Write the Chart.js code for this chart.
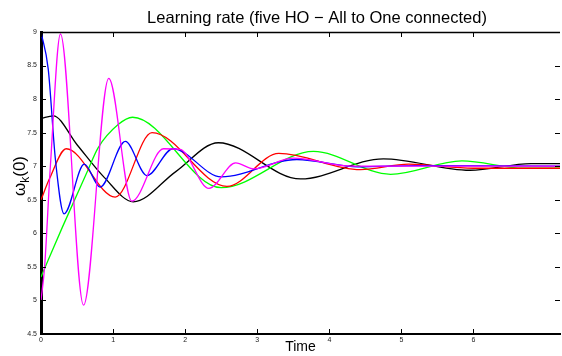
<!DOCTYPE html>
<html>
<head>
<meta charset="utf-8">
<script src="https://cdn.jsdelivr.net/npm/chart.js@4/dist/chart.umd.min.js"></script>
<style>
  html, body { margin: 0; padding: 0; background: #fff; }
  #wrap { width: 562px; height: 356px; }
</style>
</head>
<body>
<div id="wrap"><canvas id="learning-chart"></canvas></div>
<script>
// values (time, value) for each curve
const tBlack = [0, 0.17, 0.5, 0.88, 1.28, 1.87, 2.46, 3.6, 4.75, 5.95, 6.8, 7.2];
const vBlack = [7.71, 7.75, 7.32, 6.83, 6.47, 6.92, 7.35, 6.81, 7.11, 6.94, 7.04, 7.04];

const tBlue = [0, 0.1, 0.2, 0.32, 0.6, 0.82, 1.17, 1.47, 1.83, 2.5, 3.55, 4.4, 5.2, 7.2];
const vBlue = [9.0, 8.45, 7.1, 6.29, 7.03, 6.69, 7.37, 6.86, 7.26, 6.84, 7.10, 6.99, 7.01, 7.0];

const tRed = [0, 0.12, 0.35, 1.03, 1.54, 2.58, 3.3, 4.43, 5.1, 6.0, 7.2];
const vRed = [6.5, 6.82, 7.26, 6.54, 7.5, 6.70, 7.19, 6.95, 7.03, 6.97, 6.97];

const tGreen = [0, 0.3, 0.65, 0.79, 1.07, 1.27, 2.5, 3.78, 4.85, 5.84, 6.7, 7.2];
const vGreen = [5.35, 6.1, 6.94, 7.27, 7.62, 7.73, 6.68, 7.22, 6.88, 7.08, 6.97, 6.97];

const tMagenta = [0, 0.05, 0.13, 0.27, 0.59, 0.94, 1.26, 1.7, 1.93, 2.33, 2.7, 2.95, 3.5, 4.3, 7.2];
const vMagenta = [5.0, 5.5, 7.0, 8.97, 4.93, 8.31, 6.48, 7.26, 7.25, 6.67, 7.05, 6.96, 7.12, 7.0, 7.0];

const xTicks = [0, 1, 2, 3, 4, 5, 6];

const chartTitle = 'Learning rate (five HO \u2212 All to One connected)';

function pts(t, v) {
    return t.map((x, i) => ({ x: x, y: v[i] }));
}

function series(label, color, t, v) {
    return {
        label: label,
        data: pts(t, v),
        borderColor: color,
        borderWidth: 1.3,
        pointRadius: 0,
        fill: false,
        cubicInterpolationMode: 'monotone',
    };
}

// matlab-like inward ticks, top border, title and the ω_k(0) label
const matlabFrame = {
    id: 'matlabFrame',
    afterDraw(chart) {
        const { ctx, chartArea: a, scales: { x, y } } = chart;
        ctx.save();
        ctx.strokeStyle = '#000';
        ctx.lineWidth = 1;
        ctx.beginPath();
        y.ticks.forEach(t => {
            const py = Math.round(y.getPixelForValue(t.value)) + 0.5;
            ctx.moveTo(a.left, py); ctx.lineTo(a.left + 5, py);
            ctx.moveTo(a.right - 5, py); ctx.lineTo(a.right, py);
        });
        x.ticks.forEach(t => {
            const px = Math.round(x.getPixelForValue(t.value)) + 0.5;
            ctx.moveTo(px, a.bottom); ctx.lineTo(px, a.bottom - 5);
            ctx.moveTo(px, a.top); ctx.lineTo(px, a.top + 5);
        });
        ctx.stroke();
        ctx.lineWidth = 1.5;
        ctx.beginPath();
        ctx.moveTo(a.left, a.top + 0.5);
        ctx.lineTo(a.right, a.top + 0.5);
        ctx.stroke();

        // title (the original figure is cropped on the right, so it sits off-centre)
        ctx.fillStyle = '#000';
        ctx.font = '16.5px "Liberation Sans", Arial, sans-serif';
        ctx.textAlign = 'center';
        ctx.textBaseline = 'middle';
        ctx.fillText(chartTitle, 317, 18);

        // y axis title with subscript k
        ctx.textAlign = 'left';
        ctx.translate(25, 176);
        ctx.rotate(-Math.PI / 2);
        ctx.textBaseline = 'alphabetic';
        const big = '17px "Liberation Sans", Arial, sans-serif';
        const small = '12px "Liberation Sans", Arial, sans-serif';
        ctx.font = big;
        const w1 = ctx.measureText('ω').width;
        const w3 = ctx.measureText('(0)').width;
        ctx.font = small;
        const w2 = ctx.measureText('k').width;
        let cx = -(w1 + w2 + w3) / 2;
        ctx.font = big;
        ctx.fillText('ω', cx, 0);
        cx += w1;
        ctx.font = small;
        ctx.fillText('k', cx, 4);
        cx += w2;
        ctx.font = big;
        ctx.fillText('(0)', cx, 0);
        ctx.restore();
    }
};

document.addEventListener('DOMContentLoaded', function () {
    const ctx = document.getElementById('learning-chart').getContext('2d');
    new Chart(ctx, {
        type: 'line',
        data: {
            datasets: [
                series('HO 5', '#ff00ff', tMagenta, vMagenta),
                series('HO 2', '#0000ff', tBlue, vBlue),
                series('HO 3', '#ff0000', tRed, vRed),
                series('HO 4', '#00ff00', tGreen, vGreen),
                series('HO 1', '#000000', tBlack, vBlack),
            ],
        },
        options: {
            responsive: true,
            maintainAspectRatio: false,
            animation: false,
            layout: { padding: { left: 0, right: 2, top: 32, bottom: 0 } },
            plugins: {
                legend: { display: false },
                tooltip: { enabled: false },
                title: { display: false },
            },
            scales: {
                x: {
                    type: 'linear',
                    min: 0,
                    max: 7.2,
                    afterBuildTicks: scale => {
                        scale.ticks = xTicks.map(v => ({ value: v }));
                    },
                    afterFit: scale => { scale.height = 22; },
                    grid: { display: false, drawTicks: false },
                    border: { color: '#000', width: 2 },
                    ticks: {
                        color: '#222',
                        padding: 2,
                        maxRotation: 0,
                        font: { family: '"Liberation Sans", Arial, sans-serif', size: 7 },
                    },
                    title: {
                        display: true,
                        text: 'Time',
                        color: '#000',
                        padding: 0,
                        font: { family: '"Liberation Sans", Arial, sans-serif', size: 14 },
                    },
                },
                y: {
                    min: 4.5,
                    max: 9,
                    afterFit: scale => { scale.width = 41; },
                    grid: { display: false, drawTicks: false },
                    border: { color: '#000', width: 3 },
                    ticks: {
                        stepSize: 0.5,
                        color: '#222',
                        padding: 4,
                        callback: v => String(v),
                        font: { family: '"Liberation Sans", Arial, sans-serif', size: 7 },
                    },
                },
            },
        },
        plugins: [matlabFrame],
    });
});
</script>
</body>
</html>
